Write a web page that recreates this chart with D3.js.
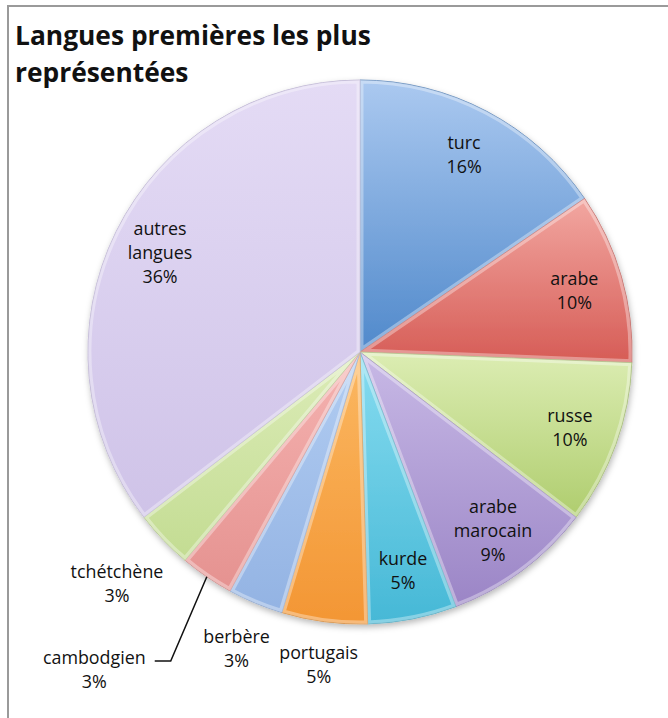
<!DOCTYPE html>
<html>
<head>
<meta charset="utf-8">
<script src="https://cdn.jsdelivr.net/npm/d3@7"></script>
<style>
  body { margin: 0; background: #fff; }
  svg { display: block; font-family: "Open Sans", Lato, sans-serif; }
</style>
</head>
<body>
<svg id="chart" width="668" height="718"></svg>
<script>
// data
var categories = ["turc", "arabe", "russe", "arabe marocain", "kurde", "portugais", "berbère", "cambodgien", "tchétchène", "autres langues"];
var shares = [15.5, 10.2, 9.8, 8.9, 5.3, 5.1, 3.3, 3.2, 3.5, 35.5];
var percentLabels = ["16%", "10%", "10%", "9%", "5%", "5%", "3%", "3%", "3%", "36%"];
var placement = ["inside", "inside", "inside", "inside", "inside", "outside", "outside", "leader", "outside", "inside"];
var lightColors = ["#abc9f0", "#f2a7a1", "#dcedb3", "#c8b9e6", "#86dcf0", "#fbb862", "#b2cdf2", "#f5b3b1", "#dcecb8", "#e4dbf5"];
var darkColors = ["#5089cb", "#d65c56", "#afcd6e", "#9b85c6", "#46b8d6", "#f39634", "#93b3e3", "#e59290", "#c3dc92", "#cfc3e8"];
var edgeColors = ["#4a78b0", "#b9504b", "#93ad5c", "#8571ad", "#3c9fba", "#d2812c", "#7d9bc8", "#c87d7b", "#a8bf7c", "#b3a8cc"];
var titleLines = ["Langues premières les plus", "représentées"];

var svg = d3.select("#chart");
var cx = 360, cy = 352, R = 272;

// frame (runs off the right and bottom edge)
svg.append("rect")
  .attr("x", 8).attr("y", 6)
  .attr("width", 720).attr("height", 800)
  .attr("fill", "none")
  .attr("stroke", "#9a9a9a")
  .attr("stroke-width", 2);

// title, sized so the first line spans like the original
var title = svg.append("text")
  .attr("font-weight", "bold")
  .attr("fill", "#111")
  .attr("font-size", 28);
title.selectAll("tspan")
  .data(titleLines)
  .join("tspan")
  .attr("x", 15)
  .attr("y", (d, i) => 45 + i * 37)
  .text(d => d);
var tw = title.select("tspan").node().getComputedTextLength();
title.attr("font-size", 28 * 356 / tw);

var defs = svg.append("defs");
defs.append("filter")
  .attr("id", "shadow")
  .attr("x", "-10%").attr("y", "-10%").attr("width", "120%").attr("height", "120%")
  .append("feDropShadow")
  .attr("dx", 1).attr("dy", 3).attr("stdDeviation", 3)
  .attr("flood-color", "#000").attr("flood-opacity", 0.28);

categories.forEach(function (c, i) {
  var g = defs.append("linearGradient")
    .attr("id", "grad" + i)
    .attr("x1", 0).attr("y1", 0).attr("x2", 0).attr("y2", 1);
  g.append("stop").attr("offset", "0%").attr("stop-color", lightColors[i]);
  g.append("stop").attr("offset", "100%").attr("stop-color", darkColors[i]);
});

var pie = d3.pie().value(d => d).sort(null).startAngle(0).endAngle(2 * Math.PI);
var arcs = pie(shares);
var arc = d3.arc().innerRadius(0).outerRadius(R);

var pieG = svg.append("g")
  .attr("transform", "translate(" + cx + "," + cy + ")");

var sliceLayer = pieG.append("g").attr("filter", "url(#shadow)");
sliceLayer.selectAll("path.slice")
  .data(arcs)
  .join("path")
  .attr("class", "slice")
  .attr("d", arc)
  .attr("fill", (d, i) => "url(#grad" + i + ")")
  .attr("stroke", (d, i) => edgeColors[i])
  .attr("stroke-width", 0.8);

// bevel: light inner edge clipped to each slice
arcs.forEach(function (d, i) {
  defs.append("clipPath").attr("id", "clip" + i)
    .append("path").attr("d", arc(d));
});
pieG.append("g").selectAll("path.bevel")
  .data(arcs)
  .join("path")
  .attr("class", "bevel")
  .attr("d", arc)
  .attr("clip-path", (d, i) => "url(#clip" + i + ")")
  .attr("fill", "none")
  .attr("stroke", "#fff")
  .attr("stroke-opacity", 0.35)
  .attr("stroke-width", 7);

// labels
var lineH = 24;
var probe = svg.append("text").attr("font-size", 16).text("portugais");
var fs = 16 * 79 / probe.node().getComputedTextLength();
probe.remove();

var labelG = svg.append("g")
  .attr("font-size", fs)
  .attr("fill", "#111")
  .attr("text-anchor", "middle");

arcs.forEach(function (d, i) {
  var lines = categories[i].split(" ").concat([percentLabels[i]]);
  var mid = (d.startAngle + d.endAngle) / 2;
  var t = labelG.append("text");
  t.selectAll("tspan").data(lines).join("tspan").text(s => s);
  var w = d3.max(t.selectAll("tspan").nodes(), n => n.getComputedTextLength());
  var h = lines.length * lineH;
  var a = mid, dist;
  if (placement[i] === "inside") {
    dist = R * 0.82;
  } else {
    var gap = 14;
    if (placement[i] === "leader") { a = mid + 5.6 * Math.PI / 180; gap = 91; }
    dist = R + gap + Math.abs(Math.sin(a)) * w / 2 + Math.abs(Math.cos(a)) * h / 2;
  }
  var x = cx + dist * Math.sin(a);
  var y = cy - dist * Math.cos(a);
  var y0 = y - (lines.length - 1) * lineH / 2;
  t.selectAll("tspan")
    .attr("x", x)
    .attr("y", (s, k) => y0 + k * lineH)
    .attr("dy", "0.35em");

  if (placement[i] === "leader") {
    var sx = cx + R * Math.sin(mid), sy = cy - R * Math.cos(mid);
    var right = x + w / 2;
    svg.append("path")
      .attr("d", d3.line()([[sx, sy], [right + 25, y0 + 3], [right + 9, y0 + 3]]))
      .attr("fill", "none")
      .attr("stroke", "#111")
      .attr("stroke-width", 1.5);
  }
});
</script>
</body>
</html>
